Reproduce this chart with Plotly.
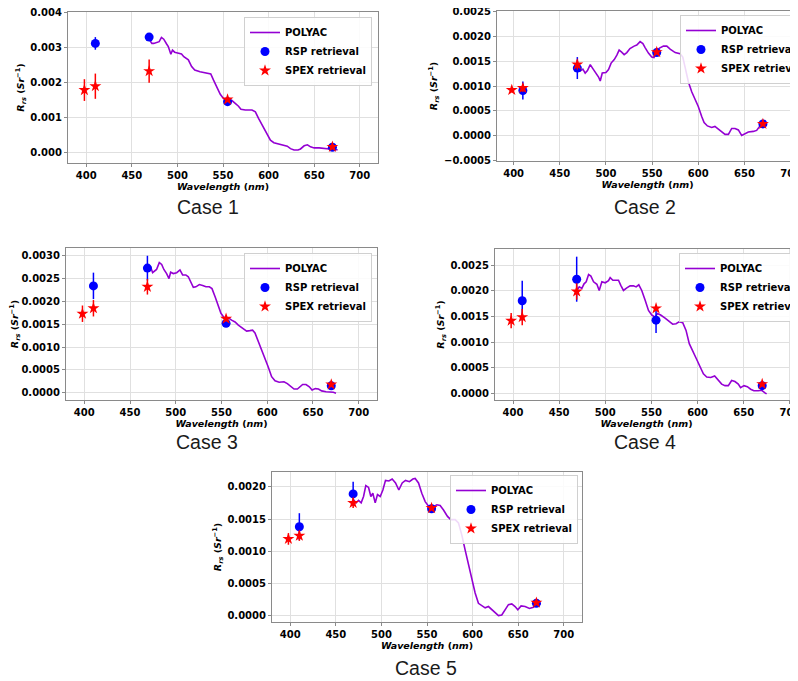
import plotly.graph_objects as go

# ---------------- data ----------------
rsp_wl = [410, 469, 555, 670]
spex_wl = [398, 410, 469, 555, 670]

# Case 1
polyac_wl_1 = [469, 472, 474, 477.7, 480, 482.5, 485, 488, 490, 492.8, 494.6, 497, 500.9, 504.5, 507,
               512, 515.6, 519, 524.8, 530.3, 536.6, 539.5, 543, 547, 550.6, 556, 559.8, 563.4, 567,
               569.7, 574.5, 581.8, 585.5, 589, 594.7, 598.4, 602, 605.8, 611.3, 616.8, 620.5, 624,
               627.9, 632.3, 635, 639, 642.6, 646, 650, 655.5, 661, 666.5, 672, 675.7]
polyac_rrs_1 = [0.00323, 0.00311, 0.00311, 0.00313, 0.00316, 0.00328, 0.00323, 0.0031, 0.00302, 0.0028,
                0.00292, 0.00286, 0.00283, 0.00281, 0.00273, 0.00264, 0.00245, 0.00235, 0.0023, 0.00228,
                0.00224, 0.00207, 0.00186, 0.00166, 0.00154, 0.0015, 0.00148, 0.0014, 0.00132, 0.00123,
                0.00121, 0.00121, 0.00116, 0.00097, 0.00069, 0.00051, 0.00035, 0.00028, 0.00024, 0.00019,
                0.00018, 0.00011, 0.00007, 0.00007, 0.0001, 0.00019, 0.00022, 0.00016, 0.00013, 0.00013,
                0.00011, 0.0001, 0.0001, 0.00007]
rsp_rrs_1 = [0.00311, 0.00329, 0.00145, 0.00015]
rsp_err_1 = [0.00018, 0.00005, 0.00005, 0.00004]
spex_rrs_1 = [0.00178, 0.00189, 0.00232, 0.00151, 0.00016]
spex_err_1 = [0.00031, 0.00036, 0.00033, 0.00005, 0.00004]

# Case 2
polyac_wl_2 = [469.2, 472, 475, 477.5, 480, 483, 485.8, 489.4, 492, 493.8, 496, 500, 502.8, 505.6, 509,
               511.8, 514.3, 517, 519.7, 522.6, 526, 530.5, 533.4, 537, 540, 542.4, 546, 549.6, 552,
               555, 558, 562.3, 565.9, 569.5, 575, 580.3, 583.2, 585.7, 589.3, 593, 596.5, 600, 603.7,
               606.3, 609.9, 614.5, 618, 621.8, 625.4, 629, 632.6, 636.2, 639.8, 643.4, 647, 650.6,
               654.2, 659.6, 663.2, 666.8, 670.4, 673]
polyac_rrs_2 = [0.00133, 0.0013, 0.00134, 0.00126, 0.00131, 0.00143, 0.00135, 0.00125, 0.00118, 0.0011,
                0.00126, 0.00127, 0.00133, 0.00146, 0.00153, 0.00162, 0.00172, 0.00168, 0.00163, 0.00167,
                0.00175, 0.0018, 0.00182, 0.00189, 0.00185, 0.00177, 0.00166, 0.00158, 0.00157, 0.00168,
                0.00176, 0.0018, 0.0018, 0.00174, 0.00167, 0.00165, 0.00158, 0.00138, 0.00108, 0.00088,
                0.00075, 0.00059, 0.00039, 0.00027, 0.0002, 0.00017, 0.00019, 0.00013, 0.00007, 0.00003,
                0.00003, 0.00015, 0.00015, 0.00012, 0.00001, 0.00005, 0.00008, 0.00009, 0.00011, 0.0002,
                0.00027, 0.00031]
rsp_rrs_2 = [0.00091, 0.00136, 0.00167, 0.00024]
rsp_err_2 = [0.00018, 0.00022, 0.00005, 0.00004]
spex_rrs_2 = [0.00092, 0.00096, 0.00143, 0.00168, 0.00024]
spex_err_2 = [0.00004, 0.00008, 0.0001, 0.00004, 0.00004]

# Case 3
polyac_wl_3 = [470, 472.5, 474.7, 477.3, 479, 482, 484.6, 487, 490, 492.6, 494.4, 497.3, 501, 504.6,
               507.5, 511, 513.7, 516.3, 519.2, 522, 525.8, 529.4, 533, 536.7, 539.6, 543, 546.5, 549.4,
               552.7, 557.5, 561, 564.8, 568.4, 573, 577.5, 581, 584, 586.6, 590.3, 594, 597.5, 601,
               604.8, 608.5, 613, 618.3, 622, 625.6, 629.3, 633, 635.8, 638.7, 642.4, 646, 649, 652.6,
               656, 659.5, 664.3, 668.6, 672.3, 675.2]
polyac_rrs_3 = [0.00265, 0.00276, 0.00263, 0.00267, 0.0027, 0.00285, 0.00281, 0.0027, 0.00261, 0.0025,
                0.00264, 0.00261, 0.00263, 0.00269, 0.00258, 0.00258, 0.00254, 0.00243, 0.00231, 0.00232,
                0.00237, 0.00235, 0.00232, 0.00232, 0.00228, 0.0021, 0.00188, 0.00174, 0.00165, 0.00164,
                0.00159, 0.00155, 0.00148, 0.00141, 0.00135, 0.00136, 0.00137, 0.00131, 0.00112, 0.00093,
                0.00079, 0.00057, 0.00035, 0.00026, 0.00023, 0.00024, 0.0002, 0.00013, 0.00008, 0.00008,
                0.00013, 0.00018, 0.00018, 0.00013, 0.00006, 0.00009, 0.00008, 0.00004, 0.00002, 0.00002,
                0.00001, -0.00001]
rsp_rrs_3 = [0.00234, 0.00273, 0.00152, 0.00015]
rsp_err_3 = [0.00029, 0.00027, 0.00005, 0.00004]
spex_rrs_3 = [0.00173, 0.00185, 0.00232, 0.00162, 0.00018]
spex_err_3 = [0.00018, 0.00018, 0.00017, 0.00005, 0.00004]

# Case 4
polyac_wl_4 = [469.2, 471.8, 474.6, 477, 479.3, 481.9, 484.4, 487.3, 490.9, 493.4, 496.3, 499.9, 503.5,
               505.3, 508.2, 511.8, 514.3, 516.8, 519.7, 523.3, 526.9, 530.5, 533.4, 536.3, 539.5, 543.2,
               546.8, 550.4, 554, 556.5, 560, 564.8, 569.5, 573, 576.7, 580.3, 583.9, 587.5, 591, 594.7,
               598.3, 602.7, 606.3, 609.9, 614.2, 618.5, 622.5, 626.1, 629.7, 633.3, 636.9, 640.5,
               644.1, 646.6, 650.3, 653.9, 657.5, 661, 665.8, 669.4, 673, 674.8]
polyac_rrs_4 = [0.00201, 0.00208, 0.00205, 0.00214, 0.00218, 0.00232, 0.00229, 0.00218, 0.00213, 0.00201,
                0.00218, 0.00216, 0.0022, 0.00226, 0.00221, 0.00221, 0.00221, 0.00211, 0.00201, 0.00206,
                0.0021, 0.0021, 0.00208, 0.00212, 0.00201, 0.00182, 0.00162, 0.00153, 0.00149, 0.00156,
                0.00153, 0.00147, 0.0014, 0.00135, 0.00136, 0.0014, 0.00138, 0.00123, 0.00097, 0.00084,
                0.00069, 0.00052, 0.00038, 0.00032, 0.00031, 0.00034, 0.00026, 0.00018, 0.00015, 0.00015,
                0.00025, 0.00023, 0.00018, 0.00011, 0.00015, 0.00013, 0.00008, 0.00005, 0.00005, 0.00006,
                0.00001, -0.00001]
rsp_rrs_4 = [0.00181, 0.00223, 0.00143, 0.00015]
rsp_err_4 = [0.00039, 0.00044, 0.00025, 0.00004]
spex_rrs_4 = [0.00142, 0.00149, 0.00199, 0.00166, 0.00018]
spex_err_4 = [0.00015, 0.00016, 0.00016, 0.00004, 0.00004]

# Case 5
polyac_wl_5 = [469.4, 472.3, 474.9, 477.8, 480.4, 482.9, 485.9, 488.4, 490.6, 493.2, 495.7, 498.7, 501.6,
               504.5, 508.2, 511.8, 515.5, 519.1, 522.8, 526.4, 530.8, 534.5, 537, 540.7, 544.3, 548,
               552.7, 557.1, 560.8, 564.4, 568.1, 572.5, 576.1, 580.9, 584.5, 588.2, 591.8, 595.5, 599.1,
               602.8, 606.4, 610.1, 613.8, 617.4, 621.1, 624.7, 628.4, 632, 635.7, 639.3, 643, 646.6,
               649.6, 653.2, 657.6, 662.4, 666.7, 670.4, 674.8]
polyac_rrs_5 = [0.0018, 0.00175, 0.00179, 0.00175, 0.00185, 0.00202, 0.00199, 0.00185, 0.0019, 0.00175,
                0.00188, 0.00185, 0.00195, 0.0021, 0.00209, 0.00212, 0.00206, 0.00195, 0.00206, 0.0021,
                0.00208, 0.00212, 0.00213, 0.00206, 0.0019, 0.00177, 0.00168, 0.00169, 0.00172, 0.00171,
                0.00164, 0.00154, 0.00149, 0.00149, 0.00144, 0.00125, 0.00102, 0.00079, 0.00055, 0.00035,
                0.00019, 0.00015, 0.00012, 0.00014, 0.00009, 0.00004, 0.0, 0.00001, 0.00009, 0.00017,
                0.00018, 0.00014, 0.00009, 0.00015, 0.00014, 0.00011, 0.00013, 0.00018, 0.00018]
rsp_rrs_5 = [0.00138, 0.00189, 0.00166, 0.00019]
rsp_err_5 = [0.00021, 0.00019, 0.00004, 0.00003]
spex_rrs_5 = [0.00119, 0.00124, 0.00175, 0.00167, 0.0002]
spex_err_5 = [0.00009, 0.00008, 0.00008, 0.00003, 0.00003]

case_labels = ["Case 1", "Case 2", "Case 3", "Case 4", "Case 5"]
x_ticks = [400, 450, 500, 550, 600, 650, 700]

cases = [
    (polyac_wl_1, polyac_rrs_1, rsp_rrs_1, rsp_err_1, spex_rrs_1, spex_err_1),
    (polyac_wl_2, polyac_rrs_2, rsp_rrs_2, rsp_err_2, spex_rrs_2, spex_err_2),
    (polyac_wl_3, polyac_rrs_3, rsp_rrs_3, rsp_err_3, spex_rrs_3, spex_err_3),
    (polyac_wl_4, polyac_rrs_4, rsp_rrs_4, rsp_err_4, spex_rrs_4, spex_err_4),
    (polyac_wl_5, polyac_rrs_5, rsp_rrs_5, rsp_err_5, spex_rrs_5, spex_err_5),
]

# ---------------- layout (pixel geometry of the 798x681 page) ----------------
W, H = 798, 681
OFF = 8  # default page body margin in front of the figure


def px_x(p):
    return (p - OFF) / W


def px_y(p):
    return 1 - (p - OFF) / H


# (left, right, top, bottom) in page px
boxes = [(68, 378, 12, 163), (497, 798, 11, 161), (66, 377, 248, 400),
         (495, 798, 249, 400), (272, 582, 472, 622)]
xranges = [[380, 720], [382, 708], [380, 720], [380.5, 708.8], [380, 720]]
yranges = [[-0.0003, 0.004006], [-0.000503, 0.002504], [-0.00016, 0.00317],
           [-0.00013, 0.00282], [-0.0001, 0.00223]]
y_tickvals = [
    [0.0, 0.001, 0.002, 0.003, 0.004],
    [-0.0005, 0.0, 0.0005, 0.001, 0.0015, 0.002, 0.0025],
    [0.0, 0.0005, 0.001, 0.0015, 0.002, 0.0025, 0.003],
    [0.0, 0.0005, 0.001, 0.0015, 0.002, 0.0025],
    [0.0, 0.0005, 0.001, 0.0015, 0.002],
]
yfmts = [".3f", ".4f", ".4f", ".4f", ".4f"]
legpos = [(372, 17, "right"), (680, 15, "left"), (372, 253, "right"),
          (679, 253, "left"), (578, 475, "right")]
captions = [(208, 207), (645, 207), (207, 442), (645, 442), (426, 668)]

LINE_COLOR = "darkviolet"
TICKFONT = dict(family="DejaVu Sans", size=10, color="black", weight="bold")
TITLEFONT = dict(family="DejaVu Sans", size=9.5, color="black")

fig = go.Figure()
layout = dict(
    width=W, height=H,
    margin=dict(l=0, r=0, t=0, b=0, autoexpand=False),
    paper_bgcolor="white", plot_bgcolor="white",
    showlegend=True,
)

for i, (pwl, prrs, rrrs, rerr, srrs, serr) in enumerate(cases):
    n = i + 1
    sfx = "" if n == 1 else str(n)
    leg = "legend" if n == 1 else f"legend{n}"
    xa, ya = f"x{sfx}", f"y{sfx}"
    fig.add_trace(go.Scatter(x=pwl, y=prrs, mode="lines", name="POLYAC",
                             line=dict(color=LINE_COLOR, width=1.6),
                             xaxis=xa, yaxis=ya, legend=leg))
    fig.add_trace(go.Scatter(x=rsp_wl, y=rrrs, mode="markers", name="RSP retrieval",
                             marker=dict(color="blue", size=9, symbol="circle"),
                             error_y=dict(type="data", array=rerr, color="blue", thickness=1.5, width=0),
                             xaxis=xa, yaxis=ya, legend=leg))
    fig.add_trace(go.Scatter(x=spex_wl, y=srrs, mode="markers", name="SPEX retrieval",
                             marker=dict(color="red", size=9, symbol="star"),
                             error_y=dict(type="data", array=serr, color="red", thickness=1.5, width=0),
                             xaxis=xa, yaxis=ya, legend=leg))

    l, r, t, b = boxes[i]
    common = dict(showline=True, mirror=True, linecolor="#8a8a8a", linewidth=1,
                  showgrid=True, gridcolor="#e0e0e0", gridwidth=1, zeroline=False,
                  ticks="outside", ticklen=3, tickcolor="#8a8a8a",
                  tickfont=TICKFONT, automargin=False, ticklabeloverflow="allow")
    layout[f"xaxis{sfx}"] = dict(
        common, domain=[px_x(l), min(1.0, px_x(r))], range=xranges[i], anchor=ya,
        tickvals=x_ticks,
        title=dict(text="<b><i>Wavelength</i> (<i>nm</i>)</b>", font=TITLEFONT, standoff=0),
    )
    layout[f"yaxis{sfx}"] = dict(
        common, domain=[px_y(b), px_y(t)], range=yranges[i], anchor=xa,
        tickvals=y_tickvals[i], tickformat=yfmts[i],
        title=dict(text="<b><i>R</i><sub><i>rs</i></sub> (<i>Sr</i><sup>−1</sup>)</b>",
                   font=TITLEFONT, standoff=4),
    )
    lx, ly, anc = legpos[i]
    layout[leg] = dict(x=px_x(lx), y=px_y(ly), xanchor=anc, yanchor="top",
                       bgcolor="rgba(255,255,255,0.85)", bordercolor="#d0d0d0", borderwidth=1,
                       font=dict(family="DejaVu Sans", size=10, color="black", weight="bold"),
                       itemwidth=30, tracegroupgap=0)

annotations = []
for (cx, cy), txt in zip(captions, case_labels):
    annotations.append(dict(text=txt, x=px_x(cx), y=px_y(cy), xref="paper", yref="paper",
                            xanchor="center", yanchor="middle", showarrow=False,
                            font=dict(family="Liberation Sans", size=19.5, color="#1a1a1a")))
layout["annotations"] = annotations
fig.update_layout(**layout)

fig.write_html("out.html")
